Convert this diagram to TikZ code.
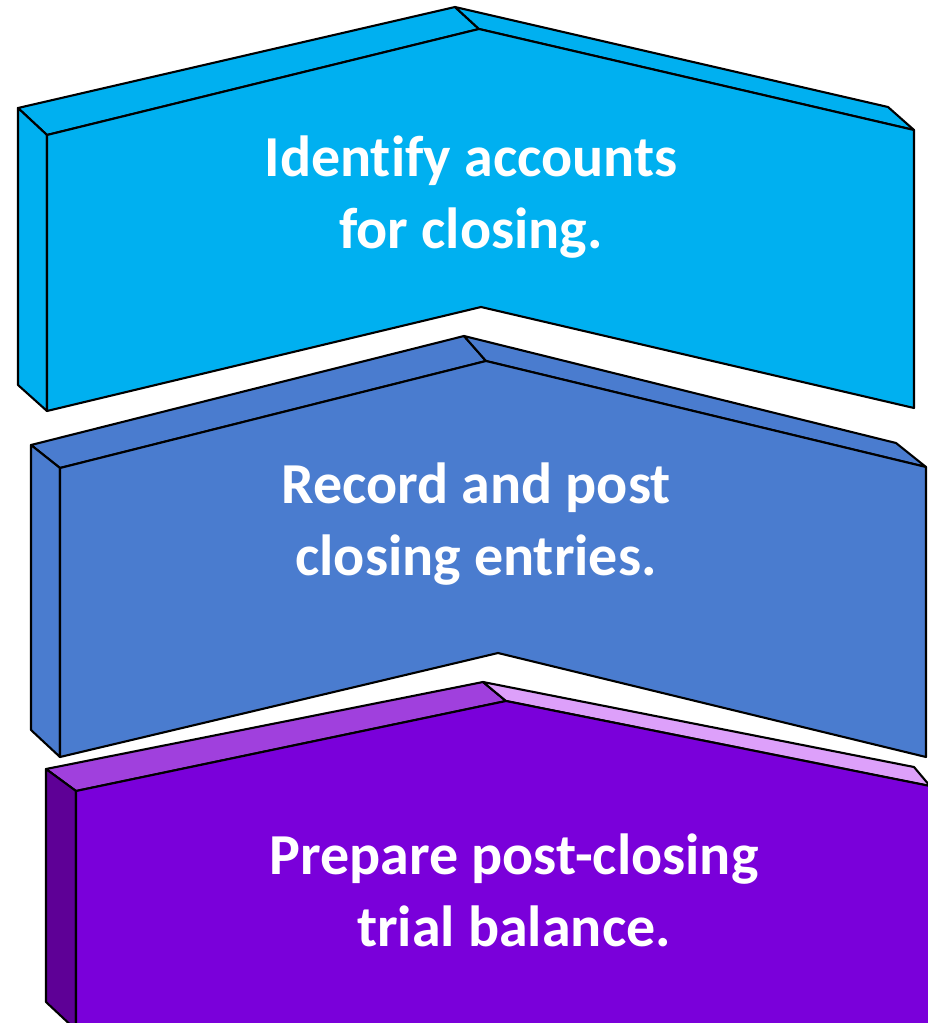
\documentclass[tikz,border=0pt]{standalone}
\usepackage{fontspec}
\setmainfont{Carlito}[Ligatures={NoCommon}]
\definecolor{stepcyan}{HTML}{00B0F0}
\definecolor{stepblue}{HTML}{4A7CCF}
\definecolor{stepviolet}{HTML}{7A00DA}
\definecolor{violettop}{HTML}{A040DD}
\definecolor{violetlight}{HTML}{DDA0FA}
\definecolor{violetside}{HTML}{5E0096}
\tikzset{
  face/.style={draw=black, line width=2.1pt, line join=round},
  steplabel/.style={text=white, font=\bfseries\fontsize{58}{72}\selectfont, align=center, inner sep=0pt}
}
\begin{document}
\begin{tikzpicture}[x=1pt,y=-1pt]
\useasboundingbox (0,0) rectangle (928,1023);
\clip (0,0) rectangle (928,1023);

% ---- step 1: cyan chevron ----
\coordinate (a-bl) at (18,108);  \coordinate (a-bp) at (455,7);   \coordinate (a-br) at (888,107);
\coordinate (a-fl) at (47,135);  \coordinate (a-fp) at (479,29);  \coordinate (a-fr) at (914,130);
\coordinate (a-sl) at (18,385);  \coordinate (a-fb) at (47,411);
\coordinate (a-rb) at (914,408); \coordinate (a-n) at (481,307);
\path[face, fill=stepcyan] (a-bl) -- (a-bp) -- (a-fp) -- (a-fl) -- cycle;
\path[face, fill=stepcyan] (a-bp) -- (a-br) -- (a-fr) -- (a-fp) -- cycle;
\path[face, fill=stepcyan] (a-bl) -- (a-fl) -- (a-fb) -- (a-sl) -- cycle;
\path[face, fill=stepcyan] (a-fl) -- (a-fp) -- (a-fr) -- (a-rb) -- (a-n) -- (a-fb) -- cycle;
\node[steplabel] (t1) at (471,197) {Identify accounts\\for closing.};

% ---- step 2: blue chevron ----
\coordinate (b-bl) at (31,445);  \coordinate (b-bp) at (464,336); \coordinate (b-br) at (896,443);
\coordinate (b-fl) at (60,468);  \coordinate (b-fp) at (486,361); \coordinate (b-fr) at (926,467);
\coordinate (b-sl) at (31,730);  \coordinate (b-fb) at (60,757);
\coordinate (b-rb) at (926,757); \coordinate (b-n) at (498,653);
\path[face, fill=stepblue] (b-bl) -- (b-bp) -- (b-fp) -- (b-fl) -- cycle;
\path[face, fill=stepblue] (b-bp) -- (b-br) -- (b-fr) -- (b-fp) -- cycle;
\path[face, fill=stepblue] (b-bl) -- (b-fl) -- (b-fb) -- (b-sl) -- cycle;
\path[face, fill=stepblue] (b-fl) -- (b-fp) -- (b-fr) -- (b-rb) -- (b-n) -- (b-fb) -- cycle;
\node[steplabel] (t2) at (476,524) {Record and post\\closing entries.};

% ---- step 3: violet pentagon ----
\coordinate (c-bl) at (46,769);  \coordinate (c-bp) at (483,682); \coordinate (c-br) at (914,767);
\coordinate (c-fl) at (76,791);  \coordinate (c-fp) at (506,701); \coordinate (c-fr) at (930,786);
\coordinate (c-sl) at (46,1002); \coordinate (c-fb) at (76,1030);
\coordinate (c-xr) at (940,788); \coordinate (c-xb) at (940,1040); \coordinate (c-xl) at (76,1040);
\path[face, fill=violettop] (c-bl) -- (c-bp) -- (c-fp) -- (c-fl) -- cycle;
\path[face, fill=violetlight] (c-bp) -- (c-br) -- (c-fr) -- (c-fp) -- cycle;
\path[face, fill=violetside] (c-bl) -- (c-fl) -- (c-fb) -- (c-sl) -- cycle;
\path[face, fill=stepviolet] (c-fl) -- (c-fp) -- (c-fr) -- (c-xr) -- (c-xb) -- (c-xl) -- cycle;
\node[steplabel] (t3) at (514,890) {Prepare post-closing\\trial balance.};
\end{tikzpicture}
\end{document}
